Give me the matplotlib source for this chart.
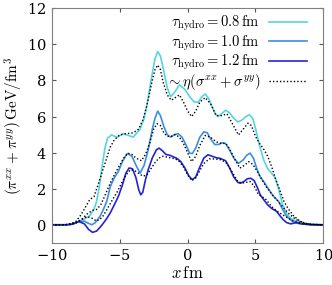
import numpy as np
import matplotlib
matplotlib.use("Agg")
from matplotlib import pyplot as plt

plt.rcParams["mathtext.fontset"] = "cm"
plt.rcParams["font.family"] = "serif"
plt.rcParams["font.serif"] = ["DejaVu Serif"]
plt.rcParams["axes.formatter.use_mathtext"] = True

# tau_hydro = 0.8 fm
x_08 = [-10, -9, -8.5, -8, -7.6, -7.2, -6.9, -6.7, -6.5, -6.3, -6.1, -5.9, -5.6, -5.2, -4.75, -4.0,
        -3.5, -3.2, -3.0, -2.8, -2.6, -2.4, -2.2, -2.0, -1.8, -1.5, -1.25, -1.0, -0.6, -0.2, 0.2,
        0.5, 0.8, 1.05, 1.3, 1.55, 1.8, 2.05, 2.25, 2.5, 2.8, 3.1, 3.4, 3.7, 4.0, 4.3, 4.55, 4.8,
        5.05, 5.3, 5.6, 5.9, 6.2, 6.45, 6.7, 7.0, 7.3, 7.6, 8.0, 8.4, 9.0, 10]
y_08 = [0, 0, 0.03, 0.18, 0.32, 0.5, 0.85, 1.3, 2.1, 3.2, 4.2, 4.8, 4.98, 4.85, 5.05, 4.86,
        5.3, 5.9, 6.6, 7.5, 8.4, 9.2, 9.6, 9.35, 8.7, 7.6, 7.1, 7.3, 7.75, 7.5, 7.05,
        6.8, 6.8, 7.1, 7.25, 7.0, 6.55, 6.15, 6.0, 6.15, 6.35, 6.2, 5.9, 5.7, 5.8, 6.0, 6.1, 5.9,
        5.2, 4.4, 3.6, 3.1, 2.85, 2.6, 2.0, 1.1, 0.6, 0.35, 0.2, 0.1, 0.03, 0]

# tau_hydro = 1.0 fm
x_10 = [-10, -9, -8.5, -8.0, -7.6, -7.3, -7.05, -6.8, -6.45, -6.2, -5.95, -5.7, -5.4, -5.1, -4.8,
        -4.45, -4.1, -3.8, -3.5, -3.2, -2.9, -2.6, -2.4, -2.2, -2.0, -1.75, -1.5, -1.25, -0.95,
        -0.7, -0.4, -0.1, 0.15, 0.35, 0.6, 0.9, 1.2, 1.45, 1.7, 2.0, 2.3, 2.55, 2.8, 3.05, 3.4,
        3.75, 4.1, 4.35, 4.6, 4.85, 5.1, 5.35, 5.6, 5.9, 6.3, 6.7, 7.0, 7.3, 7.7, 8.1, 8.6, 9.2, 10]
y_10 = [0, 0, 0.03, 0.18, 0.2, 0.08, 0.0, 0.12, 0.46, 0.85, 1.3, 2.1, 2.6, 2.95, 3.5,
        3.95, 3.8, 3.3, 2.86, 3.3, 4.15, 5.3, 5.9, 6.3, 6.05, 5.45, 5.0, 4.86, 5.0,
        5.05, 4.85, 4.4, 3.97, 3.95, 4.25, 4.85, 5.15, 5.1, 4.75, 4.45, 4.45, 4.55, 4.5, 4.2, 3.7,
        3.4, 3.6, 3.85, 3.97, 3.7, 3.1, 2.65, 2.4, 2.05, 1.6, 1.3, 0.85, 0.46, 0.2, 0.08, 0.03, 0.0, 0]

# tau_hydro = 1.2 fm
x_12 = [-10, -9, -8.5, -8.0, -7.6, -7.3, -7.0, -6.7, -6.4, -6.2, -5.95, -5.7, -5.4, -5.1, -4.8,
        -4.55, -4.3, -4.05, -3.8, -3.6, -3.45, -3.3, -3.1, -2.9, -2.6, -2.3, -2.1, -1.85, -1.6,
        -1.3, -1.0, -0.8, -0.5, -0.2, 0.1, 0.35, 0.6, 0.9, 1.2, 1.5, 1.8, 2.1, 2.4, 2.8, 3.1, 3.4,
        3.7, 3.9, 4.15, 4.4, 4.65, 4.9, 5.15, 5.35, 5.6, 5.9, 6.2, 6.55, 6.8, 7.05, 7.3, 7.6, 8.0,
        8.4, 9.0, 10]
y_12 = [0, 0, 0.03, 0.18, 0.05, -0.25, -0.42, -0.35, -0.1, 0.09, 0.35, 0.65, 1.1, 1.57, 2.2,
        2.85, 3.15, 3.1, 2.6, 1.95, 1.66, 1.8, 2.5, 3.05, 3.7, 4.15, 4.25, 4.1, 3.9,
        3.85, 3.75, 3.69, 3.5, 3.15, 2.7, 2.5, 2.65, 3.2, 3.7, 3.88, 3.8, 3.72, 3.68, 3.55, 3.15, 2.65,
        2.35, 2.3, 2.4, 2.55, 2.58, 2.45, 2.05, 1.66, 1.4, 1.1, 0.9, 0.75, 0.5, 0.28, 0.12, 0.05, 0.12,
        0.05, 0.01, 0]

# ~ eta (sigma^xx + sigma^yy), one per tau_hydro
xd_08 = [-10, -9, -8.6, -8.2, -7.9, -7.5, -7.2, -6.9, -6.6, -6.3, -6.0, -5.7, -5.4, -5.0, -4.5,
         -4.0, -3.6, -3.3, -3.0, -2.8, -2.6, -2.4, -2.2, -2.0, -1.8, -1.5, -1.2, -0.9, -0.6, -0.3,
         0.0, 0.3, 0.6, 0.9, 1.3, 1.7, 2.1, 2.5, 2.9, 3.3, 3.75, 4.1, 4.45, 4.7, 5.0, 5.3, 5.6, 5.9,
         6.2, 6.5, 6.8, 7.1, 7.4, 7.8, 8.2, 8.6, 9.2, 10]
yd_08 = [0, 0, 0.05, 0.2, 0.5, 1.0, 1.4, 1.55, 2.2, 2.9, 3.6, 4.3, 4.7, 4.98, 5.05,
         5.1, 5.3, 5.8, 6.6, 7.3, 8.0, 8.6, 8.85, 8.6, 7.9, 7.2, 6.9, 7.05, 7.2, 6.8,
         6.3, 6.0, 6.3, 6.8, 7.05, 6.7, 6.05, 6.05, 6.15, 5.6, 4.98, 5.3, 5.63, 5.5, 4.9, 4.5, 4.2, 3.8,
         3.2, 2.5, 1.9, 1.3, 0.9, 0.5, 0.25, 0.08, 0.0, 0]
xd_10 = [-10, -9, -8.6, -8.2, -7.8, -7.4, -7.0, -6.7, -6.4, -6.1, -5.7, -5.3, -5.0, -4.7, -4.4,
         -4.1, -3.8, -3.4, -3.1, -2.8, -2.5, -2.25, -2.0, -1.75, -1.5, -1.2, -0.9, -0.6, -0.3, 0.0,
         0.3, 0.6, 0.9, 1.3, 1.7, 2.1, 2.5, 2.8, 3.1, 3.5, 3.85, 4.2, 4.5, 4.8, 5.1, 5.4, 5.8, 6.2,
         6.6, 7.0, 7.4, 7.8, 8.2, 8.7, 9.2, 10]
yd_10 = [0, 0, 0.03, 0.12, 0.3, 0.6, 0.8, 0.85, 1.1, 1.6, 2.3, 2.9, 3.3, 3.7, 3.97,
         3.9, 3.7, 3.55, 3.9, 4.5, 5.3, 5.6, 5.5, 5.1, 4.9, 4.9, 5.0, 4.85, 4.5, 4.0,
         3.5, 3.8, 4.4, 4.95, 4.85, 4.6, 4.5, 4.52, 4.2, 3.6, 3.14, 3.3, 3.5, 3.35, 3.0, 2.6, 2.1, 1.7,
         1.35, 1.0, 0.65, 0.4, 0.2, 0.08, 0.02, 0]
xd_12 = [-10, -9, -8.6, -8.2, -7.8, -7.4, -7.0, -6.7, -6.3, -5.95, -5.6, -5.2, -4.8, -4.5, -4.2,
         -3.9, -3.6, -3.3, -3.0, -2.7, -2.4, -2.1, -1.8, -1.5, -1.2, -0.9, -0.6, -0.3, 0.0, 0.3,
         0.6, 0.9, 1.2, 1.6, 2.0, 2.5, 2.9, 3.3, 3.7, 4.0, 4.3, 4.6, 4.9, 5.2, 5.5, 5.8, 6.2, 6.6,
         7.0, 7.4, 7.8, 8.1, 8.5, 9.0, 10]
yd_12 = [0, 0, 0.03, 0.12, 0.3, 0.45, 0.35, 0.2, 0.4, 0.83, 1.3, 1.8, 2.4, 2.8, 3.05,
         3.0, 2.85, 2.7, 2.75, 3.1, 3.45, 3.7, 3.8, 3.75, 3.7, 3.65, 3.5, 3.2, 2.77, 2.45,
         2.6, 3.0, 3.4, 3.65, 3.65, 3.6, 3.4, 2.9, 2.4, 2.31, 2.35, 2.4, 2.15, 1.7, 1.55, 1.38, 1.0, 0.74,
         0.55, 0.37, 0.2, 0.13, 0.06, 0.02, 0]

labels = [r"$\tau_{\rm hydro} = 0.8\,{\rm fm}$",
          r"$\tau_{\rm hydro} = 1.0\,{\rm fm}$",
          r"$\tau_{\rm hydro} = 1.2\,{\rm fm}$"]
colors = ["#55d4e2", "#3b8fe2", "#2424d4"]

fig = plt.figure(figsize=(3.32, 2.85), dpi=100)
ax = fig.add_axes([0.156, 0.148, 0.818, 0.823])

for xs, ys, lab, c in zip([x_08, x_10, x_12], [y_08, y_10, y_12], labels, colors):
    ax.plot(xs, ys, color=c, lw=1.2, label=lab)
first = True
for xs, ys in zip([xd_08, xd_10, xd_12], [yd_08, yd_10, yd_12]):
    ax.plot(xs, ys, color="black", lw=1.0, ls=(0, (1, 1.5)),
            label=r"$\sim\eta(\sigma^{xx}+\sigma^{yy})$" if first else None)
    first = False

ax.set_xlim(-10, 10)
ax.set_ylim(-1, 12)
ax.set_xticks([-10, -5, 0, 5, 10])
ax.set_yticks([0, 2, 4, 6, 8, 10, 12])
ax.tick_params(direction="in", top=True, right=True, labelsize=10.5, length=3, color="#555555",
               pad=4)
for s in ax.spines.values():
    s.set_color("#808080")
ax.set_xlabel(r"$x\,{\rm fm}$", fontsize=12, labelpad=1)
ax.set_ylabel(r"$(\pi^{xx}+\pi^{yy})\,{\rm GeV/fm}^3$", fontsize=11, labelpad=1)

ax.legend(loc="upper right", frameon=False, markerfirst=False, fontsize=10.5,
          handlelength=2.6, labelspacing=0.0, borderaxespad=0.0, handletextpad=0.6,
          bbox_to_anchor=(0.96, 1.0))

fig.savefig("out.png", dpi=100)
